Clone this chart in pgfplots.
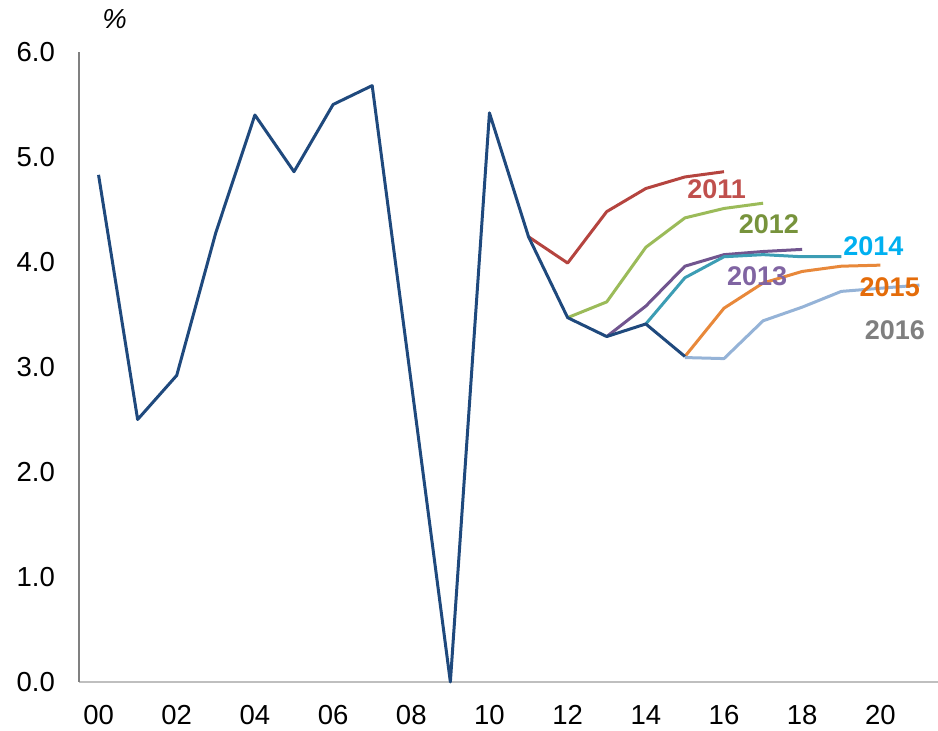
\documentclass[border=0pt]{standalone}
\usepackage{pgfplots}
\pgfplotsset{compat=1.18}
\usepackage{fontspec}
\setmainfont{Liberation Sans}
\definecolor{mainblue}{HTML}{1F497D}
\definecolor{c11}{HTML}{B5443F}
\definecolor{l11}{HTML}{C0504D}
\definecolor{c12}{HTML}{9BBB59}
\definecolor{l12}{HTML}{77933C}
\definecolor{c13}{HTML}{71558F}
\definecolor{l13}{HTML}{8064A2}
\definecolor{c14}{HTML}{3C9DB4}
\definecolor{l14}{HTML}{00B0F0}
\definecolor{c15}{HTML}{E8883A}
\definecolor{l15}{HTML}{E46C0A}
\definecolor{c16}{HTML}{95B3D7}
\definecolor{l16}{HTML}{7F7F7F}
\begin{document}
\begin{tikzpicture}
\useasboundingbox (0bp,0bp) rectangle (938bp,731bp);
\begin{axis}[
  at={(79bp,49bp)}, anchor=south west,
  scale only axis, width=860bp, height=630bp,
  xmin=-0.5, xmax=21.5, ymin=0, ymax=6,
  clip=false,
  axis x line*=bottom, axis y line*=left,
  x axis line style={draw=black!25, line width=2bp, -},
  y axis line style={draw=black!50, line width=1.1bp, -},
  major tick length=0pt,
  xtick={0,2,...,20},
  xticklabels={00,02,04,06,08,10,12,14,16,18,20},
  ytick={0,1,...,6},
  yticklabel={\pgfmathprintnumber[fixed,fixed zerofill,precision=1]{\tick}},
  /pgf/number format/assume math mode=true,
  tick label style={font=\fontsize{27.5bp}{32bp}\selectfont, inner sep=0pt},
  xticklabel style={anchor=north, yshift=-23bp},
  yticklabel style={anchor=east, xshift=-24bp},
  every axis plot/.append style={line width=3bp, line join=round, mark=none},
]
\addplot[c11] coordinates {(11,4.24) (12,3.99) (13,4.48) (14,4.70) (15,4.81) (16,4.86)};
\addplot[c12] coordinates {(12,3.47) (13,3.62) (14,4.14) (15,4.42) (16,4.51) (17,4.56)};
\addplot[c13] coordinates {(13,3.29) (14,3.58) (15,3.96) (16,4.07) (17,4.10) (18,4.12)};
\addplot[c14] coordinates {(14,3.41) (15,3.85) (16,4.05) (17,4.07) (18,4.05) (19,4.05)};
\addplot[c15] coordinates {(15,3.10) (16,3.56) (17,3.80) (18,3.91) (19,3.96) (20,3.97)};
\addplot[c16] coordinates {(15,3.09) (16,3.08) (17,3.44) (18,3.57) (19,3.72) (20,3.75) (21,3.78)};
\addplot[mainblue] coordinates {
 (0,4.83) (1,2.50) (2,2.92) (3,4.28) (4,5.40) (5,4.86) (6,5.50) (7,5.68)
 (8,2.85) (9,0.00) (10,5.42) (11,4.24) (12,3.47) (13,3.29) (14,3.41) (15,3.10)};
\begin{scope}[every node/.style={font=\fontsize{27bp}{30bp}\selectfont\bfseries, inner sep=0pt}]
\node[text=l11] at (axis cs:15.81,4.695) {2011};
\node[text=l12] at (axis cs:17.15,4.357) {2012};
\node[text=l14] at (axis cs:19.82,4.152) {2014};
\node[text=l13] at (axis cs:16.85,3.867) {2013};
\node[text=l15] at (axis cs:20.24,3.757) {2015};
\node[text=l16] at (axis cs:20.37,3.348) {2016};
\end{scope}
\end{axis}
\node[font=\fontsize{27.5bp}{32bp}\selectfont\itshape, inner sep=0pt] at (114.5bp,712bp) {\%};
\end{tikzpicture}
\end{document}
